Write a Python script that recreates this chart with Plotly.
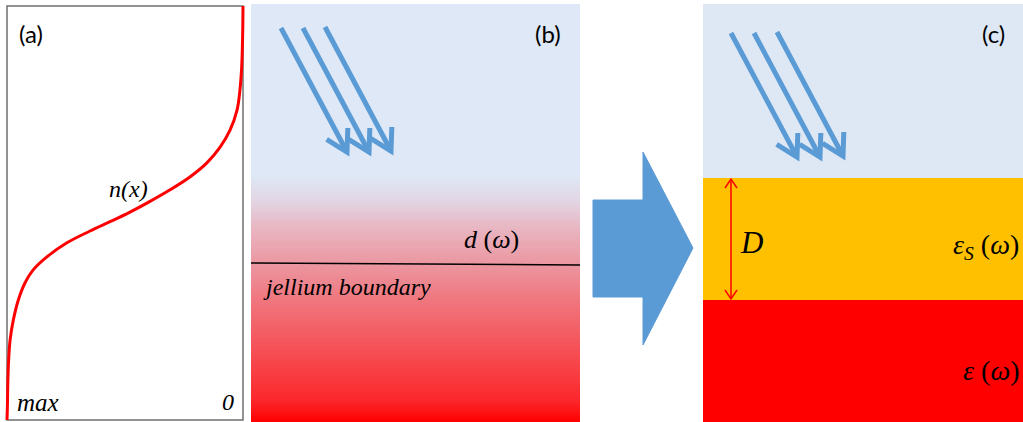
import math
import plotly.graph_objects as go

# ---------------------------------------------------------------- data
# (a) electron density profile: n / n_max (horizontal, max on the left)
#     against normalised depth (vertical, 0 = bottom of the panel)
density_frac = [1.000, 0.9987, 0.9945, 0.987, 0.973, 0.952, 0.924, 0.890,
                0.831, 0.746, 0.648, 0.551, 0.479, 0.394, 0.309, 0.225,
                0.153, 0.097, 0.055, 0.025, 0.013, 0.0055, 0.0013, 0.000]
depth_frac = [0.000, 0.024, 0.128, 0.193, 0.242, 0.290, 0.331, 0.362,
              0.394, 0.428, 0.4565, 0.482, 0.502, 0.528, 0.556, 0.587,
              0.621, 0.659, 0.700, 0.749, 0.797, 0.853, 0.935, 1.000]

# (b) vertical colour gradient: pixel row -> RGB
grad_rows = [4, 175, 200, 230, 263, 300, 350, 400, 422]
grad_rgb = [(222, 232, 246), (222, 232, 246), (226, 214, 228), (232, 180, 192),
            (235, 152, 162), (240, 118, 126), (245, 80, 86), (251, 40, 44),
            (255, 0, 0)]

# (c) layered model: top/bottom rows and fill colours
layer_tops = [4, 178, 300]
layer_bottoms = [178, 300, 422]
layer_colors = ["#dee8f5", "#ffc000", "#ff0000"]

# incident light rays (start points) and common ray vector
rays_b = [(281, 28), (303, 28), (325, 27)]
rays_c = [(731, 33), (754, 33), (777, 32)]
ray_vec = (66, 124)

W, H = 1023, 422
BLUE = "#5b9bd5"

fig = go.Figure()

# ---------------------------------------------------------------- panel (b) gradient
edges = list(range(4, 423, 2))
centers = [(a + b) / 2 for a, b in zip(edges[:-1], edges[1:])]
span = grad_rows[-1] - grad_rows[0]
cscale = [[(r - grad_rows[0]) / span, "rgb(%d,%d,%d)" % c]
          for r, c in zip(grad_rows, grad_rgb)]
fig.add_trace(go.Heatmap(
    x=[251, 580], y=edges, z=[[c] for c in centers],
    colorscale=cscale, zmin=grad_rows[0], zmax=grad_rows[-1],
    showscale=False, hoverinfo="skip", xaxis="x", yaxis="y"))

# ---------------------------------------------------------------- light rays
def ray_trace(start, vec, head=24, half_angle=30):
    sx, sy = start
    tx, ty = sx + vec[0], sy + vec[1]
    L = math.hypot(*vec)
    ux, uy = -vec[0] / L, -vec[1] / L
    arms = []
    for sgn in (-1, 1):
        a = math.radians(sgn * half_angle)
        rx = ux * math.cos(a) - uy * math.sin(a)
        ry = ux * math.sin(a) + uy * math.cos(a)
        arms.append((tx + head * rx, ty + head * ry))
    xs = [sx, tx, None, arms[0][0], tx, arms[1][0]]
    ys = [sy, ty, None, arms[0][1], ty, arms[1][1]]
    return go.Scatter(x=xs, y=ys, mode="lines", hoverinfo="skip",
                      line=dict(color=BLUE, width=5), xaxis="x", yaxis="y",
                      showlegend=False)

# ---------------------------------------------------------------- panel (c) layers
shapes = []
for t, b, c in zip(layer_tops, layer_bottoms, layer_colors):
    shapes.append(dict(type="rect", xref="x", yref="y", x0=703, x1=1023,
                       y0=t, y1=b, fillcolor=c, line=dict(width=0),
                       layer="below"))

for s in rays_b + rays_c:
    fig.add_trace(ray_trace(s, ray_vec))

# ---------------------------------------------------------------- panel (a) curve
ax_l, ax_r, ax_t, ax_b = 7.0, 243.0, 6.0, 420.0
xpad, ypad = 0.015, 0.004
xu = ax_r - ax_l
yu = ax_b - ax_t
xdom = [(ax_l - xpad * xu) / W, (ax_r + xpad * xu) / W]
ydom = [(H - (ax_b + ypad * yu)) / H, (H - (ax_t - ypad * yu)) / H]

fig.add_trace(go.Scatter(
    x=density_frac, y=depth_frac, mode="lines", line_shape="spline",
    line=dict(color="#ff0000", width=3), hoverinfo="skip",
    xaxis="x2", yaxis="y2", showlegend=False))

# panel (a) frame
shapes.append(dict(type="rect", xref="x", yref="y", x0=7, x1=243, y0=6, y1=420,
                   line=dict(color="#6f6f6f", width=1.5), layer="below"))

# jellium boundary line
shapes.append(dict(type="line", xref="x", yref="y", x0=251, x1=580, y0=263,
                   y1=265, line=dict(color="black", width=1.6), layer="above"))

# big transition arrow
arrow_pts = [(593, 200), (643, 200), (643, 152), (693, 248), (643, 345),
             (643, 297), (593, 297)]
path = "M " + " L ".join("%g,%g" % p for p in arrow_pts) + " Z"
shapes.append(dict(type="path", xref="x", yref="y", path=path,
                   fillcolor=BLUE, line=dict(color=BLUE, width=1),
                   layer="above"))

# double-headed thickness arrow D
dx, d_top, d_bot = 731, 179, 299
shapes.append(dict(type="line", xref="x", yref="y", x0=dx, x1=dx, y0=d_top,
                   y1=d_bot, line=dict(color="#ff0000", width=1.5),
                   layer="above"))
shapes.append(dict(type="path", xref="x", yref="y",
                   path="M %g,%g L %g,%g L %g,%g" % (dx - 6, d_top + 9, dx, d_top, dx + 6, d_top + 9),
                   line=dict(color="#ff0000", width=1.5), layer="above"))
shapes.append(dict(type="path", xref="x", yref="y",
                   path="M %g,%g L %g,%g L %g,%g" % (dx - 6, d_bot - 9, dx, d_bot, dx + 6, d_bot - 9),
                   line=dict(color="#ff0000", width=1.5), layer="above"))

# ---------------------------------------------------------------- labels
SANS = "Lato"
SERIF = "Liberation Serif"

def label(txt, x, y, size, family, xanchor="center"):
    return dict(text=txt, x=x, y=y, xref="x", yref="y", showarrow=False,
                xanchor=xanchor, yanchor="middle",
                font=dict(size=size, family=family, color="black"))

annotations = [
    label("(a)", 31, 33, 24, SANS),
    label("(b)", 548, 33, 24, SANS),
    label("(c)", 993, 33, 24, SANS),
    label("<i>n(x)</i>", 128, 189, 24, SERIF),
    label("<i>max</i>", 38, 402, 25, SERIF),
    label("<i>0</i>", 228, 402, 24, SERIF),
    label("<i>d</i> (<i>ω</i>)", 491, 239, 26, SERIF),
    label("<i>jellium boundary</i>", 261, 287, 24, SERIF, xanchor="left"),
    label("<i>D</i>", 751, 242, 31, SERIF),
    label("<i>ε</i><sub><i>S</i></sub> (<i>ω</i>)", 1021, 246, 28, SERIF, xanchor="right"),
    label("<i>ε</i> (<i>ω</i>)", 1021, 370, 28, SERIF, xanchor="right"),
]

hidden = dict(visible=False, showgrid=False, zeroline=False, fixedrange=True)
fig.update_layout(
    width=W, height=H, margin=dict(l=0, r=0, t=0, b=0, pad=0),
    paper_bgcolor="white", plot_bgcolor="rgba(0,0,0,0)",
    font=dict(family=SERIF),
    showlegend=False, shapes=shapes, annotations=annotations,
    xaxis=dict(range=[0, W], domain=[0, 1], **hidden),
    yaxis=dict(range=[H, 0], domain=[0, 1], **hidden),
    xaxis2=dict(range=[1 + xpad, -xpad], domain=xdom, anchor="y2", **hidden),
    yaxis2=dict(range=[-ypad, 1 + ypad], domain=ydom, anchor="x2", **hidden),
)

fig.write_html("out.html", config={"displayModeBar": False})
